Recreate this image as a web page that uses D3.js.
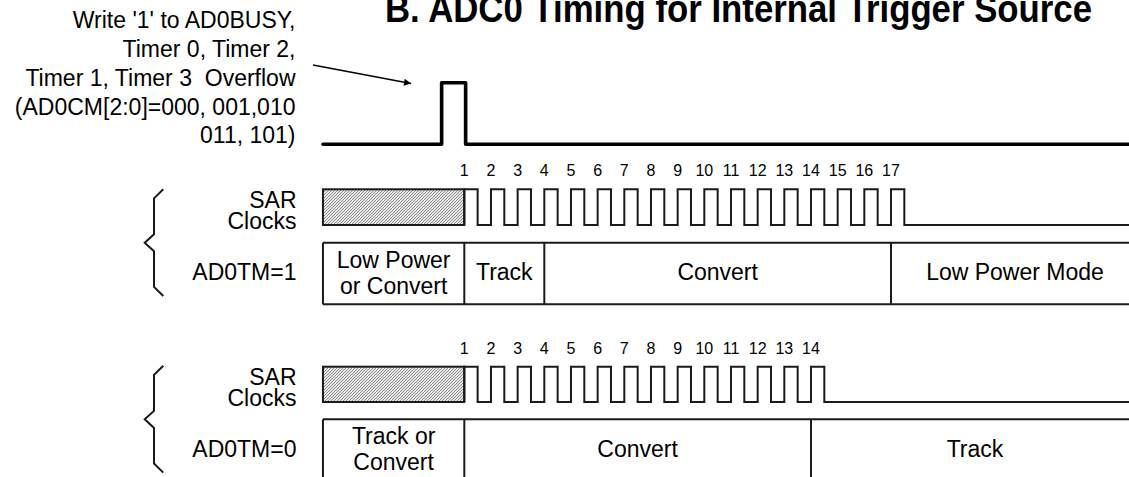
<!DOCTYPE html>
<html lang="en">
<head>
  <meta charset="UTF-8">
  <title>ADC0 Timing for Internal Trigger Source</title>
  <style>
    body { margin: 0; background: #fff; }
    svg { display: block; }
    text { font-family: "Liberation Sans", Arial, sans-serif; fill: #000; white-space: pre; }
    .label { font-size: 23px; }
    .clock-num { font-size: 16px; }
    .title { font-size: 39px; font-weight: bold; }
    .wave { fill: none; stroke: #1a1a1a; stroke-width: 2; }
    .trigger { fill: none; stroke: #000; stroke-width: 3.6; stroke-linecap: round; stroke-linejoin: round; }
    .grid { fill: none; stroke: #1a1a1a; stroke-width: 2; }
  </style>
</head>
<body>
  <div id="chart"></div>

  <script src="https://d3js.org/d3.v7.min.js"></script>
  <script>
    // ---- data (time in SAR clock units) ----
    const titleText = "B. ADC0 Timing for Internal Trigger Source";
    const triggerLines = ["Write '1' to AD0BUSY,", "Timer 0, Timer 2,", "Timer 1, Timer 3  Overflow",
                          "(AD0CM[2:0]=000, 001,010", "011, 101)"];
    const timelineStart = -4.3;
    const timelineEnd = 26.3;
    const triggerPulse = [0.15, 1.05];

    const clocksTM1 = [1, 2, 3, 4, 5, 6, 7, 8, 9, 10, 11, 12, 13, 14, 15, 16, 17];
    const modeNamesTM1 = [["Low Power", "or Convert"], ["Track"], ["Convert"], ["Low Power Mode"]];
    const modeEdgesTM1 = [timelineStart, 1, 4, 17, timelineEnd];

    const clocksTM0 = [1, 2, 3, 4, 5, 6, 7, 8, 9, 10, 11, 12, 13, 14];
    const modeNamesTM0 = [["Track or", "Convert"], ["Convert"], ["Track"]];
    const modeEdgesTM0 = [timelineStart, 1, 14, timelineEnd];

    // ---- layout ----
    const W = 1129, H = 477;
    const svg = d3.select("#chart").append("svg")
      .attr("width", W).attr("height", H);

    const x = d3.scaleLinear().domain([1, 17]).range([464.3, 891]);

    const defs = svg.append("defs");
    const pat = defs.append("pattern")
      .attr("id", "hatch").attr("patternUnits", "userSpaceOnUse")
      .attr("width", 3).attr("height", 3);
    pat.append("rect").attr("width", 3).attr("height", 3).attr("fill", "#e4e4e4");
    pat.append("path").attr("d", "M0,3 L3,0 M-1,1 L1,-1 M2,4 L4,2")
      .attr("stroke", "#8c8c8c").attr("stroke-width", 0.9);

    defs.append("marker")
      .attr("id", "arrow").attr("viewBox", "0 0 10 10")
      .attr("refX", 10).attr("refY", 5)
      .attr("markerWidth", 9).attr("markerHeight", 7)
      .attr("markerUnits", "userSpaceOnUse")
      .attr("orient", "auto")
      .append("path").attr("d", "M0,0 L10,5 L0,10 Z").attr("fill", "#000");

    // title (cut at the top, like the original)
    svg.append("text").attr("class", "title")
      .attr("x", 385).attr("y", 21.5)
      .attr("textLength", 707).attr("lengthAdjust", "spacingAndGlyphs")
      .text(titleText);

    // trigger label
    svg.append("g").selectAll("text")
      .data(triggerLines).join("text")
      .attr("class", "label")
      .attr("text-anchor", "end")
      .attr("x", 295.5)
      .attr("y", (d, i) => 28.3 + i * 28.75)
      .text(d => d);

    svg.append("line")
      .attr("x1", 313).attr("y1", 65)
      .attr("x2", 411).attr("y2", 83.5)
      .attr("stroke", "#000").attr("stroke-width", 1.6)
      .attr("marker-end", "url(#arrow)");

    // trigger waveform
    const trigY = { low: 144.3, high: 82.7 };
    const trigPts = [
      [timelineStart, trigY.low], [triggerPulse[0], trigY.low], [triggerPulse[0], trigY.high],
      [triggerPulse[1], trigY.high], [triggerPulse[1], trigY.low], [timelineEnd, trigY.low]
    ];
    const line = d3.line().x(d => x(d[0])).y(d => d[1]);
    svg.append("path").attr("class", "trigger").attr("d", line(trigPts));

    function drawRow(row) {
      const g = svg.append("g");

      // brace
      const bx = [163.3, 154, 144.7];
      const m = row.modeTop;
      g.append("path").attr("class", "grid")
        .attr("d", `M${bx[0]},${m - 53.5} L${bx[1]},${m - 44.4} L${bx[1]},${m - 8.4} L${bx[2]},${m}` +
                   ` L${bx[1]},${m + 8.6} L${bx[1]},${m + 44.2} L${bx[0]},${m + 53.3}`);

      // side labels
      g.append("text").attr("class", "label").attr("text-anchor", "end")
        .attr("x", 296.5).attr("y", row.clockTop + 18.5).text("SAR");
      g.append("text").attr("class", "label").attr("text-anchor", "end")
        .attr("x", 296.5).attr("y", row.clockTop + 39.5).text("Clocks");
      g.append("text").attr("class", "label").attr("text-anchor", "end")
        .attr("x", 296.5).attr("y", row.modeTop + 37.5).text(row.name);

      // shaded "don't care" box before clock 1
      g.append("rect")
        .attr("x", x(timelineStart)).attr("y", row.clockTop)
        .attr("width", x(row.clocks[0]) - x(timelineStart))
        .attr("height", row.clockBottom - row.clockTop)
        .attr("fill", "url(#hatch)").attr("stroke", "#1a1a1a").attr("stroke-width", 2);

      // clock waveform
      const pts = [];
      row.clocks.forEach(c => {
        pts.push([c, row.clockBottom], [c, row.clockTop], [c + 0.5, row.clockTop], [c + 0.5, row.clockBottom]);
      });
      pts.push([timelineEnd, row.clockBottom]);
      g.append("path").attr("class", "wave").attr("d", line(pts));

      // clock numbers
      g.append("g").selectAll("text")
        .data(row.clocks).join("text")
        .attr("class", "clock-num")
        .attr("text-anchor", "middle")
        .attr("x", d => x(d))
        .attr("y", row.clockTop - 13)
        .text(d => d);

      // mode boxes
      g.append("line").attr("class", "grid")
        .attr("x1", x(timelineStart)).attr("x2", x(timelineEnd))
        .attr("y1", row.modeTop).attr("y2", row.modeTop);
      g.append("line").attr("class", "grid")
        .attr("x1", x(timelineStart)).attr("x2", x(timelineEnd))
        .attr("y1", row.modeBottom).attr("y2", row.modeBottom);
      g.append("g").selectAll("line")
        .data(row.edges.slice(0, -1)).join("line")
        .attr("class", "grid")
        .attr("x1", d => x(d)).attr("x2", d => x(d))
        .attr("y1", row.modeTop).attr("y2", row.modeBottom);

      row.modes.forEach((lines, i) => {
        const cx = (x(row.edges[i]) + x(row.edges[i + 1])) / 2;
        const ys = lines.length === 1 ? [row.modeTop + 37.5] : [row.modeTop + 25, row.modeTop + 51];
        lines.forEach((t, j) => {
          g.append("text").attr("class", "label")
            .attr("text-anchor", "middle")
            .attr("x", cx).attr("y", ys[j]).text(t);
        });
      });
    }

    drawRow({ name: "AD0TM=1", clocks: clocksTM1, modes: modeNamesTM1, edges: modeEdgesTM1,
              clockTop: 189.3, clockBottom: 225, modeTop: 242.7, modeBottom: 304.3 });
    drawRow({ name: "AD0TM=0", clocks: clocksTM0, modes: modeNamesTM0, edges: modeEdgesTM0,
              clockTop: 366.7, clockBottom: 402, modeTop: 419.3, modeBottom: 484 });
  </script>
</body>
</html>
